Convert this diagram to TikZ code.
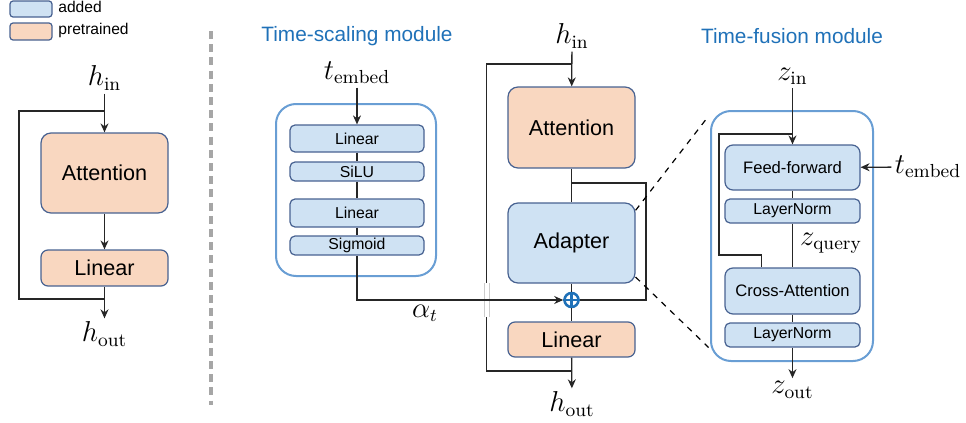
\documentclass[tikz,border=0pt]{standalone}
\usepackage{fontspec}
\setsansfont{Liberation Sans}
\usetikzlibrary{arrows.meta,positioning}

\definecolor{addfill}{RGB}{207,226,243}
\definecolor{prefill}{RGB}{249,215,192}
\definecolor{boxline}{RGB}{72,98,145}
\definecolor{modline}{RGB}{105,158,212}
\definecolor{titleblue}{RGB}{31,113,184}

\begin{document}
\begin{tikzpicture}[
  x=0.5pt, y=-0.5pt,
  font=\sffamily\fontsize{10.8}{13}\selectfont,
  >={Stealth[length=4.5pt,width=4pt]},
  blk/.style={draw=boxline, line width=0.6pt, align=center, inner sep=0pt},
  added/.style={blk, fill=addfill},
  pre/.style={blk, fill=prefill},
  big/.style={minimum width=63.5pt, rounded corners=5pt},
  small/.style={font=\sffamily\fontsize{7.9}{9}\selectfont, rounded corners=2.5pt},
  modbox/.style={draw=modline, line width=1pt, rounded corners=10pt, inner sep=0pt},
  modtitle/.style={text=titleblue, font=\sffamily\fontsize{10.4}{12}\selectfont},
  mlbl/.style={font=\fontsize{13.5}{15}\selectfont, inner sep=1.5pt},
  line/.style={line width=0.65pt, draw=black!85},
  arr/.style={line, ->},
]
\useasboundingbox (0,0) rectangle (966,423);

% Legend
\node[added, minimum width=21pt, minimum height=8pt, rounded corners=1.5pt] (legA) at (31,9) {};
\node[font=\sffamily\fontsize{7.8}{9}\selectfont, anchor=west, inner sep=0pt] at (58,7) {added};
\node[pre, minimum width=21pt, minimum height=8.5pt, rounded corners=1.5pt] (legP) at (31,31.5) {};
\node[font=\sffamily\fontsize{7.8}{9}\selectfont, anchor=west, inner sep=0pt] at (58,30) {pretrained};

% Original block
\node[mlbl] (hinL) at (104.5,78) {$h_{\mathrm{in}}$};
\node[pre, big, minimum height=40pt] (attL) at (104.5,173) {Attention};
\node[pre, big, minimum height=18pt, rounded corners=3.5pt] (linL) at (104.5,268) {Linear};
\node[mlbl] (houtL) at (104.5,334) {$h_{\mathrm{out}}$};
\coordinate (splitL) at (104.5,111);
\coordinate (joinL) at (104.5,299);
\draw[arr] (hinL) -- (attL);
\draw[arr] (attL) -- (linL);
\draw[arr] (linL) -- (houtL);
\draw[line] (splitL) -- ++(-85.5,0) |- (joinL);

% Separator
\draw[draw=black!35, line width=2pt, dash pattern=on 4pt off 2.6pt] (211,31) -- (211,405);

% Time-scaling module
\node[modtitle] (tsTitle) at (357,36) {Time-scaling module};
\node[mlbl] (tembA) at (357,73) {$t_{\mathrm{embed}}$};
\node[modbox, minimum width=80pt, minimum height=86pt] (tsBox) at (356,190) {};
\node[added, small, minimum width=67pt, minimum height=13.5pt] (lin1) at (357,138.5) {Linear};
\node[added, small, minimum width=67pt, minimum height=9.5pt] (silu) at (357,171.5) {SiLU};
\node[added, small, minimum width=67pt, minimum height=14pt] (lin2) at (357,213) {Linear};
\node[added, small, minimum width=67pt, minimum height=9.5pt] (sigm) at (357,245.5) {Sigmoid};
\draw[arr] (tembA) -- (lin1);
\draw[line] (lin1) -- (silu);
\draw[line] (silu) -- (lin2);
\draw[line] (lin2) -- (sigm);

% Adapted block
\node[mlbl] (hinM) at (572,36) {$h_{\mathrm{in}}$};
\node[pre, big, minimum height=40.5pt] (attM) at (571.5,127.5) {Attention};
\node[added, big, minimum height=40pt] (adp) at (571.5,243) {Adapter};
\node[pre, big, minimum height=17.5pt, rounded corners=3.5pt] (linM) at (571.5,339.5) {Linear};
\node[draw=titleblue, line width=1.3pt, circle, minimum size=7pt, inner sep=0pt] (plus) at (571.5,300) {};
\draw[titleblue, line width=1.3pt] (plus.north) -- (plus.south) (plus.west) -- (plus.east);
\node[mlbl] (houtM) at (572,404) {$h_{\mathrm{out}}$};
\coordinate (splitM) at (571.5,64);
\coordinate (branchM) at (571.5,183);
\coordinate (joinM) at (571.5,371);
\draw[arr] (hinM) -- (attM);
\draw[line] (attM) -- (adp);
\draw[line] (adp) -- (plus);
\draw[line] (plus) -- (linM);
\draw[arr] (linM) -- (houtM);
\draw[line] (branchM) -- ++(74.5,0) |- (plus);
\draw[line] (splitM) -- ++(-85,0) |- (joinM);
% crossing gap
\fill[white] (484,283) rectangle (489,317);
\draw[black!20, line width=0.5pt] (484,283) -- (484,317) (489,283) -- (489,317);
\draw[arr] (sigm) |- (plus);
\node[mlbl] (alpha) at (425,313) {$\alpha_t$};

% Time-fusion module
\node[modtitle] (tfTitle) at (792,36) {Time-fusion module};
\node[mlbl] (zin) at (792.5,76) {$z_{\mathrm{in}}$};
\node[modbox, minimum width=81pt, minimum height=125pt] (tfBox) at (792,236) {};
\node[added, small, font=\sffamily\fontsize{8.3}{10}\selectfont, minimum width=67.5pt, minimum height=22.5pt, rounded corners=4pt] (ff) at (792.5,167.5) {Feed-forward};
\node[added, small, minimum width=67.5pt, minimum height=12pt] (ln1) at (792.5,211) {LayerNorm};
\node[added, small, font=\sffamily\fontsize{8.3}{10}\selectfont, minimum width=67.5pt, minimum height=23pt, rounded corners=4pt] (ca) at (792.5,291) {Cross-Attention};
\node[added, small, minimum width=67.5pt, minimum height=12pt] (ln2) at (792.5,335) {LayerNorm};
\node[mlbl] (tembB) at (928,167) {$t_{\mathrm{embed}}$};
\node[mlbl] (zout) at (792.5,390) {$z_{\mathrm{out}}$};
\coordinate (splitF) at (792.5,134);
\draw[arr] (zin) -- (ff);
\draw[arr] (tembB) -- (ff);
\draw[line] (ff) -- (ln1);
\draw[line] (ln1) -- node[mlbl, right=2pt, pos=0.45] (zq) {$z_{\mathrm{query}}$} (ca);
\draw[line] (ca) -- (ln2);
\draw[arr] (ln2) -- (zout);
\draw[line] (splitF) -| ++(-73.5,121) -| (ca.143);

% Zoom lines
\draw[line width=0.6pt, dashed, shorten >=3.5pt] (adp.27) -- (tfBox.122);
\draw[line width=0.6pt, dashed, shorten >=1pt] (adp.-28) -- (tfBox.-126);

\end{tikzpicture}
\end{document}
